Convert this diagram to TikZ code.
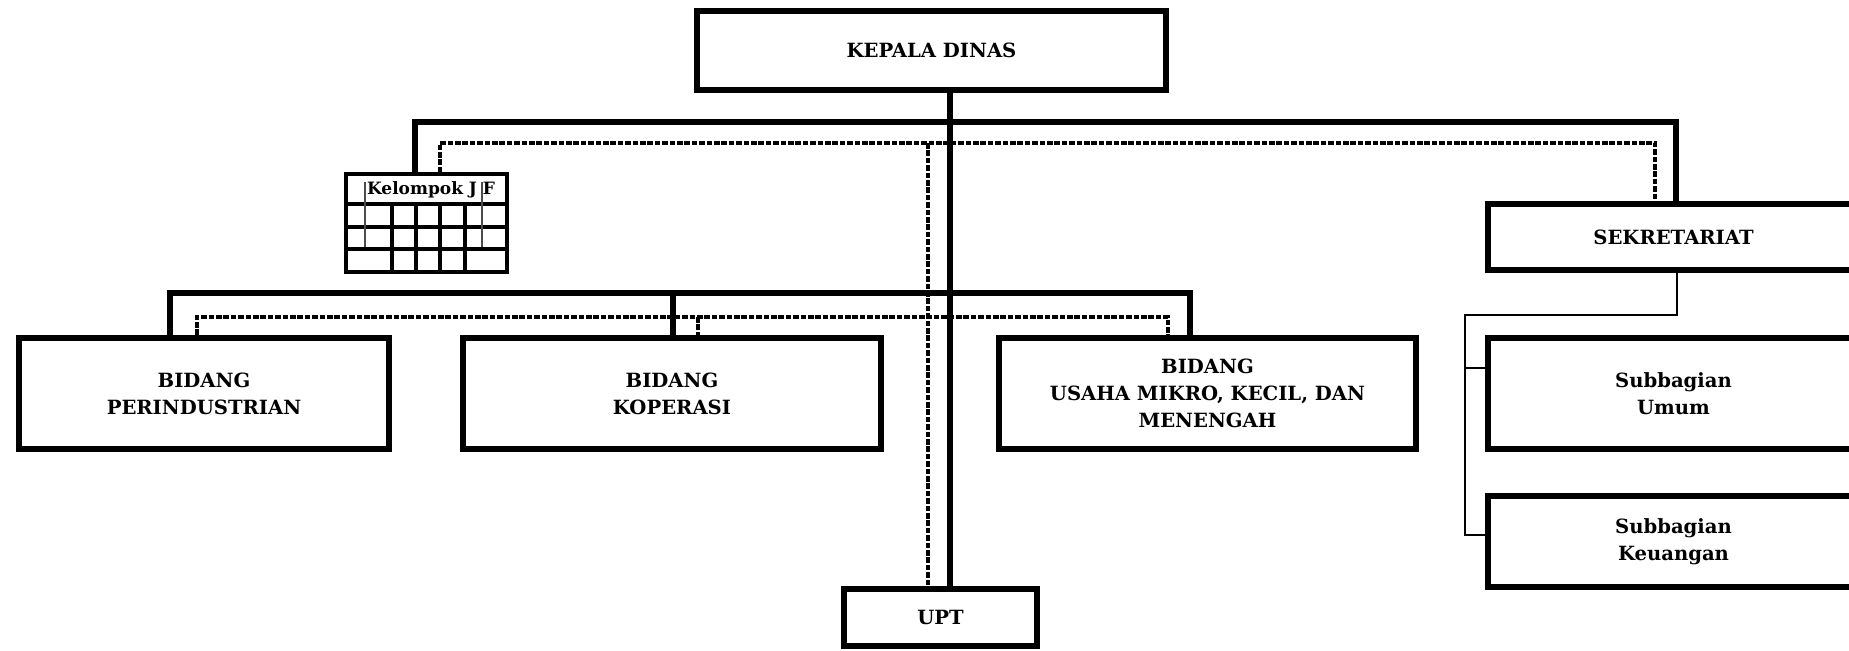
\documentclass[tikz,border=0pt]{standalone}
\usepackage{fontspec}
\setmainfont{DejaVu Serif}
\usepackage{tikz}
\usetikzlibrary{calc}
\newcommand{\mypx}{0.5pt}
\tikzset{
    boxsty/.style={draw,fill=white,rectangle,line width=3pt,align=center,anchor=center,font=\bfseries\fontsize{9.8}{13.5}\selectfont},
    linesty/.style={line width=3pt},
    dashsty/.style={line width=1.7pt,dash pattern=on 2.8pt off 0.9pt},
    thinsty/.style={line width=1pt},
    gridsty/.style={line width=1.6pt},
    graysty/.style={line width=0.7pt,draw=black!70},
}

\begin{document}
\begin{tikzpicture}[x=\mypx,y=-\mypx]
  \useasboundingbox (0,0) rectangle (1849,650);

  % boxes
  \node[boxsty,minimum width=234.5pt,minimum height=39.5pt] (kepala) at (931.5,50.5) {KEPALA DINAS};
  \node[boxsty,minimum width=185.5pt,minimum height=33pt] (sekre) at (1673.5,237) {SEKRETARIAT};
  \node[boxsty,minimum width=185.5pt,minimum height=55.5pt] (umum) at (1673.5,393.5) {Subbagian\\Umum};
  \node[boxsty,minimum width=185.5pt,minimum height=45.5pt] (keu) at (1673.5,541.5) {Subbagian\\Keuangan};
  \node[boxsty,minimum width=185pt,minimum height=55.5pt] (perin) at (204,393.5) {BIDANG\\PERINDUSTRIAN};
  \node[boxsty,minimum width=209pt,minimum height=55.5pt] (kop) at (672,393.5) {BIDANG\\KOPERASI};
  \node[boxsty,minimum width=208.5pt,minimum height=55.5pt] (umkm) at (1207.5,393.5) {BIDANG\\USAHA MIKRO, KECIL, DAN\\MENENGAH};
  \node[boxsty,minimum width=96.5pt,minimum height=28.5pt] (upt) at (940.5,617.5) {UPT};

  % kelompok jabatan fungsional
  \node[draw,gridsty,fill=white,rectangle,minimum width=80.5pt,minimum height=49pt] (jf) at (426.5,223) {};
  \foreach \yy in {204,227,249}
    \draw[gridsty] (jf.west |- 0,\yy) -- (jf.east |- 0,\yy);
  \foreach \xx in {392,416,440,465}
    \draw[gridsty] (\xx,204) -- (\xx,272);
  \foreach \xx in {365,482}
    \draw[graysty] (\xx,182) -- (\xx,247);
  \node[font=\bfseries\fontsize{8.5}{10}\selectfont,inner sep=0pt] (jfname) at (431,190) {Kelompok J F};

  % points of the lines
  \coordinate (trunk) at (950,122);
  \coordinate (topL) at (415,122);
  \coordinate (topR) at (1676,122);
  \coordinate (dtopL) at (440,143);
  \coordinate (dtopR) at (1655,143);
  \coordinate (dupt) at (928,143);
  \coordinate (bidL) at (170,293);
  \coordinate (bidM) at (673,293);
  \coordinate (bidR) at (1190,293);
  \coordinate (dbidL) at (197,317);
  \coordinate (dbidM) at (698,317);
  \coordinate (dbidR) at (1168,317);
  \coordinate (sekdrop) at (1677,315);
  \coordinate (subx) at (1465,315);
  \coordinate (brU) at (1465,368);
  \coordinate (brK) at (1465,535);

  % dashed lines
  \draw[dashsty] (jf.north -| dtopL) -- (dtopL) -- (dtopR) -- (sekre.north -| dtopR);
  \draw[dashsty] (perin.north -| dbidL) -- (dbidL) -- (dbidR) -- (umkm.north -| dbidR);
  \draw[dashsty] (dbidM) -- (kop.north -| dbidM);

  % solid lines
  \draw[linesty] (kepala.south -| trunk) -- (upt.north -| trunk);
  \draw[linesty] (jf.north -| topL) -- (topL) -- (topR) -- (sekre.north -| topR);
  \draw[linesty] (perin.north -| bidL) -- (bidL) -- (bidR) -- (umkm.north -| bidR);
  \draw[linesty] (bidM) -- (kop.north -| bidM);
  \draw[dashsty] (dupt) -- (upt.north -| dupt);

  % sekretariat
  \draw[thinsty] (sekre.south -| sekdrop) -- (sekdrop) -- (subx) -- (brK) -- (keu.west |- brK);
  \draw[thinsty] (brU) -- (umum.west |- brU);
\end{tikzpicture}
\end{document}
